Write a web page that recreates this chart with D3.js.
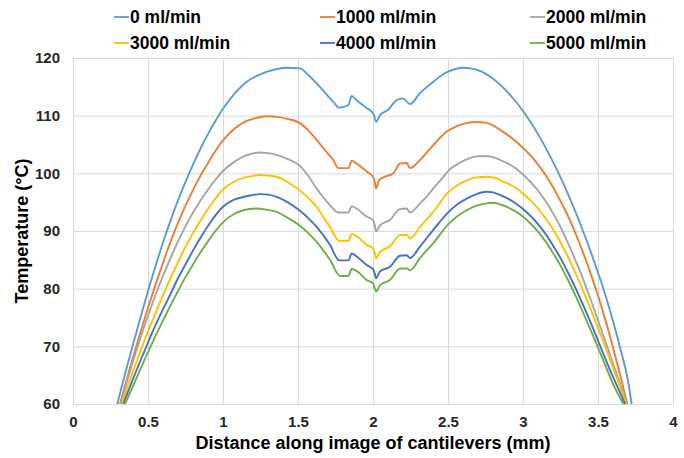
<!DOCTYPE html>
<html>
<head>
<meta charset="utf-8">
<script src="https://cdn.jsdelivr.net/npm/d3@7"></script>
<style>
  body { margin: 0; background: #fff; }
  text { font-family: "Liberation Sans", Arial, sans-serif; font-weight: bold; }
</style>
</head>
<body>
<svg id="chart" width="684" height="458"></svg>
<script>
// ===== data: [distance (mm), temperature (°C)] =====
const flow0 = [[0.295,60],[0.35,65.5],[0.40,70.3],[0.45,75],[0.50,79.6],[0.55,83.9],[0.60,88],[0.65,91.8],[0.70,95.3],[0.75,98.5],[0.80,101.5],[0.85,104.3],[0.90,106.8],[0.95,109.1],[1.0,111.2],[1.08,113.9],[1.158,115.9],[1.225,116.9],[1.29,117.6],[1.36,118.1],[1.42,118.3],[1.513,118.2],[1.57,117],[1.624,115.6],[1.68,114],[1.735,112.4],[1.775,111.4],[1.836,111.85],[1.858,113.4],[1.89,112.7],[1.958,111.3],[1.991,110.7],[2.007,110.1],[2.02,108.95],[2.047,110.1],[2.1,111],[2.158,112.7],[2.2,113.0],[2.247,112.0],[2.313,113.9],[2.402,115.9],[2.49,117.5],[2.55,118.1],[2.6,118.3],[2.65,118.2],[2.70,117.9],[2.75,117.3],[2.80,116.4],[2.85,115.3],[2.90,114.0],[2.95,112.5],[3.00,110.8],[3.05,108.9],[3.10,106.8],[3.15,104.5],[3.20,102.0],[3.25,99.3],[3.30,96.4],[3.35,93.3],[3.40,90.0],[3.45,86.5],[3.50,82.8],[3.55,78.8],[3.60,74.4],[3.65,69.5],[3.70,64],[3.724,60]];
const flow1000 = [[0.313,60],[0.36,64.4],[0.40,68.1],[0.45,72.5],[0.50,76.7],[0.55,80.7],[0.60,84.5],[0.65,88.1],[0.70,91.4],[0.75,94.4],[0.80,97.1],[0.85,99.6],[0.90,101.8],[0.95,103.9],[1.0,105.7],[1.08,107.8],[1.158,109.1],[1.22,109.6],[1.29,109.9],[1.36,109.8],[1.42,109.5],[1.513,108.7],[1.57,107.4],[1.624,105.8],[1.68,104],[1.735,102.3],[1.769,100.9],[1.836,100.9],[1.858,102.2],[1.89,101.7],[1.958,100.3],[2.0,99.4],[2.012,98.5],[2.02,97.4],[2.04,98.8],[2.069,99.3],[2.136,100],[2.18,101.7],[2.224,101.8],[2.247,100.9],[2.313,102.3],[2.402,104.9],[2.49,107.2],[2.56,108.2],[2.624,108.7],[2.69,108.9],[2.75,108.8],[2.80,108.3],[2.85,107.5],[2.90,106.6],[2.95,105.6],[3.00,104.4],[3.05,103.1],[3.10,101.5],[3.15,99.7],[3.20,97.6],[3.25,95.2],[3.30,92.6],[3.35,89.6],[3.40,86.3],[3.45,82.7],[3.50,78.8],[3.55,74.5],[3.60,69.8],[3.65,64.8],[3.695,60]];
const flow2000 = [[0.318,60],[0.36,63.9],[0.40,67.4],[0.45,71.5],[0.50,75.3],[0.55,78.9],[0.60,82.2],[0.65,85.3],[0.70,88.2],[0.75,90.8],[0.80,93.2],[0.85,95.3],[0.90,97.2],[0.95,98.9],[1.0,100.4],[1.07,101.9],[1.135,102.9],[1.19,103.4],[1.247,103.6],[1.3,103.5],[1.358,103.2],[1.43,102.5],[1.513,101.3],[1.57,99.5],[1.624,97.4],[1.67,95.8],[1.713,94.5],[1.769,93.2],[1.836,93.2],[1.858,94.3],[1.89,93.9],[1.958,92.5],[2.0,91.9],[2.012,91],[2.02,89.9],[2.047,91],[2.113,91.9],[2.18,93.8],[2.224,93.9],[2.247,93.2],[2.313,94.8],[2.36,96],[2.402,97.4],[2.45,98.8],[2.513,100.7],[2.57,101.7],[2.624,102.4],[2.68,102.9],[2.736,103],[2.80,102.8],[2.85,102.3],[2.90,101.7],[2.95,100.9],[3.00,99.8],[3.05,98.5],[3.10,97.0],[3.15,95.2],[3.20,93.1],[3.25,90.7],[3.30,87.9],[3.35,84.9],[3.40,81.7],[3.45,78.2],[3.50,74.5],[3.55,70.8],[3.60,67.0],[3.65,63.3],[3.695,60]];
const flow3000 = [[0.324,60],[0.37,63.5],[0.413,66.6],[0.46,69.9],[0.513,73.4],[0.57,77],[0.624,80.3],[0.68,83.5],[0.735,86.5],[0.79,89.2],[0.847,91.7],[0.913,94.3],[1.0,97.2],[1.07,98.5],[1.135,99.2],[1.19,99.5],[1.247,99.7],[1.3,99.6],[1.358,99.4],[1.43,98.5],[1.513,97.0],[1.57,95.7],[1.624,94.2],[1.67,92.4],[1.713,90.7],[1.775,88.3],[1.836,88.3],[1.858,89.5],[1.895,89],[1.958,87.6],[2.0,87],[2.012,86.2],[2.02,85.3],[2.047,86.4],[2.113,87.3],[2.18,89.3],[2.224,89.3],[2.247,88.7],[2.313,90.7],[2.402,93.3],[2.5,96.7],[2.56,97.9],[2.624,98.8],[2.69,99.3],[2.758,99.4],[2.80,99.3],[2.85,98.8],[2.90,98.2],[2.95,97.5],[3.00,96.5],[3.05,95.3],[3.10,93.9],[3.15,92.2],[3.20,90.3],[3.25,88.0],[3.30,85.5],[3.35,82.7],[3.40,79.7],[3.45,76.5],[3.50,73.2],[3.55,69.8],[3.60,66.3],[3.65,62.8],[3.687,60]];
const flow4000 = [[0.335,60],[0.38,63],[0.424,65.9],[0.48,69.4],[0.535,72.8],[0.59,75.9],[0.647,78.9],[0.70,81.8],[0.758,84.6],[0.80,86.6],[0.847,88.7],[0.913,91.4],[1.0,94.2],[1.07,95.4],[1.135,95.9],[1.19,96.2],[1.247,96.4],[1.3,96.3],[1.358,95.9],[1.43,95.0],[1.513,93.5],[1.57,92.2],[1.624,90.7],[1.67,89.2],[1.713,87.6],[1.775,84.9],[1.836,84.9],[1.858,86.1],[1.895,85.5],[1.958,84.1],[2.0,83.4],[2.012,82.6],[2.02,81.8],[2.047,83],[2.113,83.8],[2.18,85.7],[2.224,85.8],[2.247,85.3],[2.313,87.3],[2.402,90.2],[2.5,93.2],[2.56,94.6],[2.624,95.6],[2.69,96.4],[2.758,96.8],[2.80,96.7],[2.85,96.2],[2.90,95.6],[2.95,94.8],[3.00,93.8],[3.05,92.6],[3.10,91.2],[3.15,89.5],[3.20,87.5],[3.25,85.3],[3.30,82.8],[3.35,80.1],[3.40,77.2],[3.45,74.2],[3.50,71.0],[3.55,67.8],[3.60,64.7],[3.65,61.8],[3.68,60]];
const flow5000 = [[0.347,60],[0.40,63.1],[0.45,66.1],[0.50,69],[0.55,71.8],[0.60,74.5],[0.65,77.1],[0.70,79.6],[0.75,82],[0.80,84.2],[0.85,86.3],[0.90,88.2],[0.95,90.0],[1.0,91.5],[1.07,92.9],[1.135,93.6],[1.224,93.9],[1.29,93.7],[1.358,93.3],[1.43,92.3],[1.513,90.9],[1.57,89.6],[1.624,88.1],[1.67,86.6],[1.713,85],[1.78,82.2],[1.836,82.2],[1.858,83.4],[1.895,83],[1.958,81.5],[2.0,80.9],[2.012,80.1],[2.02,79.5],[2.047,80.6],[2.113,81.5],[2.18,83.5],[2.224,83.5],[2.247,83.2],[2.313,85.3],[2.402,87.9],[2.5,91.1],[2.56,92.5],[2.624,93.6],[2.69,94.4],[2.758,94.8],[2.80,94.9],[2.85,94.6],[2.90,94.1],[2.95,93.4],[3.00,92.5],[3.05,91.3],[3.10,89.9],[3.15,88.2],[3.20,86.2],[3.25,84.0],[3.30,81.5],[3.35,78.8],[3.40,75.9],[3.45,72.9],[3.50,69.8],[3.55,66.6],[3.60,63.5],[3.669,60]];

const seriesNames = ["0 ml/min", "1000 ml/min", "2000 ml/min", "3000 ml/min", "4000 ml/min", "5000 ml/min"];
const seriesData = [flow0, flow1000, flow2000, flow3000, flow4000, flow5000];
const seriesColors = ["#5b9bd5", "#ed7d31", "#a5a5a5", "#ffc000", "#4472c4", "#70ad47"];
const xTicks = [0, 0.5, 1, 1.5, 2, 2.5, 3, 3.5, 4];
const yTicks = [60, 70, 80, 90, 100, 110, 120];

const svg = d3.select("#chart");
const margin = { top: 58, right: 11, bottom: 54, left: 73 };
const width = +svg.attr("width") - margin.left - margin.right;
const height = +svg.attr("height") - margin.top - margin.bottom;

const g = svg.append("g")
  .attr("transform", "translate(" + margin.left + "," + margin.top + ")");

const xScale = d3.scaleLinear().domain([0, 4]).range([0, width]);
const yScale = d3.scaleLinear().domain([60, 120]).range([height, 0]);

// gridlines
g.append("g")
  .call(d3.axisLeft(yScale).tickValues(yTicks).tickSize(-width).tickFormat(""))
  .call((a) => a.select(".domain").remove())
  .selectAll("line").attr("stroke", "#d9d9d9");
g.append("g")
  .attr("transform", `translate(0,${height})`)
  .call(d3.axisBottom(xScale).tickValues(xTicks).tickSize(-height).tickFormat(""))
  .call((a) => a.select(".domain").remove())
  .selectAll("line").attr("stroke", "#d9d9d9");

// axes labels
const xAxisG = g.append("g")
  .attr("transform", `translate(0,${height})`)
  .call(d3.axisBottom(xScale).tickValues(xTicks).tickSize(0).tickPadding(12).tickFormat(d3.format("")));
xAxisG.select(".domain").attr("stroke", "#d9d9d9");
xAxisG.selectAll("text").style("font-size", "15px").attr("fill", "#262626");

const yAxisG = g.append("g")
  .call(d3.axisLeft(yScale).tickValues(yTicks).tickSize(0).tickPadding(13));
yAxisG.select(".domain").remove();
yAxisG.selectAll("text").style("font-size", "15px").attr("fill", "#262626");

// lines
const line = d3.line()
  .x((d) => xScale(d[0]))
  .y((d) => yScale(d[1]))
  .curve(d3.curveMonotoneX);

g.selectAll(".series")
  .data(seriesData)
  .enter()
  .append("path")
  .attr("class", "series")
  .attr("fill", "none")
  .attr("stroke", (d, i) => seriesColors[i])
  .attr("stroke-width", 1.9)
  .attr("stroke-linejoin", "round")
  .attr("d", line);

// axis titles
svg.append("text")
  .attr("transform", "translate(22," + (margin.top + height / 2) + ") rotate(-90)")
  .attr("text-anchor", "middle")
  .attr("dominant-baseline", "central")
  .style("font-size", "18px")
  .attr("fill", "#000")
  .text("Temperature (°C)");
svg.append("text")
  .attr("x", margin.left + width / 2)
  .attr("y", 443)
  .attr("text-anchor", "middle")
  .attr("dominant-baseline", "central")
  .style("font-size", "18px")
  .attr("fill", "#000")
  .text("Distance along image of cantilevers (mm)");

// legend, 3 columns x 2 rows
const legendX = [114, 320, 530];
const legendY = [17, 43];
const legend = svg.selectAll(".legend")
  .data(seriesNames)
  .enter()
  .append("g")
  .attr("class", "legend")
  .attr("transform", (d, i) => `translate(${legendX[i % 3]},${legendY[Math.floor(i / 3)]})`);
legend.append("line")
  .attr("x1", 0).attr("x2", 15)
  .attr("stroke", (d, i) => seriesColors[i])
  .attr("stroke-width", 1.8);
legend.append("text")
  .attr("x", 16)
  .attr("dominant-baseline", "central")
  .style("font-size", "17.5px")
  .attr("fill", "#000")
  .text((d) => d);
</script>
</body>
</html>
